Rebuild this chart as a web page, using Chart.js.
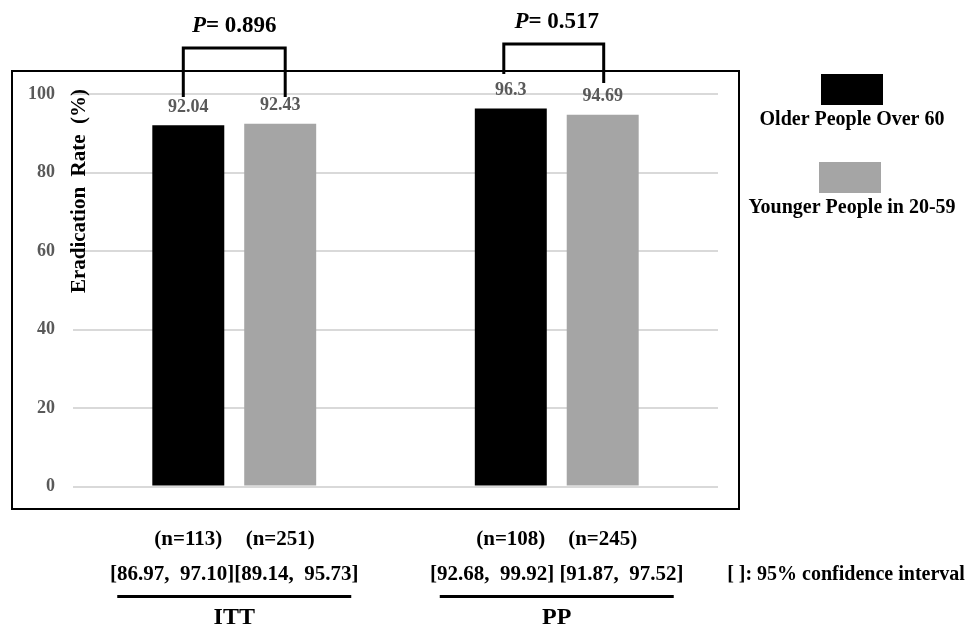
<!DOCTYPE html>
<html lang="en">
<head>
    <meta charset="UTF-8">
    <title>Eradication Rate: Older vs Younger</title>
    <style>
        body { margin: 0; background: #fff; }
        canvas { display: block; }
    </style>
</head>
<body>
    <canvas id="chart" width="969" height="631"></canvas>

    <script src="https://cdn.jsdelivr.net/npm/chart.js"></script>
    <script>
        // data
        const groups = ['ITT', 'PP'];
        const seriesNames = ['Older People Over 60', 'Younger People in 20-59'];
        const olderRates = [92.04, 96.3];
        const youngerRates = [92.43, 94.69];
        const olderN = [113, 108];
        const youngerN = [251, 245];
        const olderCI = ['[86.97,  97.10]', '[92.68,  99.92]'];
        const youngerCI = ['[89.14,  95.73]', '[91.87,  97.52]'];
        const pValues = ['0.896', '0.517'];
        const yTicks = [0, 20, 40, 60, 80, 100];
        const yTitle = 'Eradication  Rate  (%)';
        const ciNote = '[ ]: 95% confidence interval';

        const serif = "'Liberation Serif', 'Times New Roman', serif";
        const barColors = ['#000000', '#a5a5a5'];

        // bracket ends: offsets from bar centres and where the legs stop
        const bracketLayout = [
            { dl: -5, dr: 5, top: 48, bl: 97, br: 97 },
            { dl: -7, dr: 1, top: 44, bl: 74, br: 83 }
        ];
        const ciGap = ['', ' '];

        const canvas = document.getElementById('chart');
        const ctx = canvas.getContext('2d');

        function barX(chart, ds, i) {
            return chart.getDatasetMeta(ds).data[i].x;
        }

        const decorations = {
            id: 'decorations',
            beforeDraw(chart) {
                const c = chart.ctx;
                c.save();
                c.fillStyle = '#fff';
                c.fillRect(0, 0, chart.width, chart.height);
                // frame
                c.strokeStyle = '#000';
                c.lineWidth = 2;
                c.strokeRect(12, 71, 727, 438);
                c.restore();
            },
            afterDatasetsDraw(chart) {
                const c = chart.ctx;
                const x = chart.scales.x;
                c.save();

                // value labels
                c.font = 'bold 18px ' + serif;
                c.fillStyle = '#595959';
                c.textAlign = 'center';
                c.textBaseline = 'middle';
                chart.data.datasets.forEach((ds, d) => {
                    chart.getDatasetMeta(d).data.forEach((bar, i) => {
                        c.fillText(String(ds.data[i]), bar.x, bar.y - 18);
                    });
                });

                // y title inside the plot
                c.save();
                c.translate(80, 191);
                c.rotate(-Math.PI / 2);
                c.font = 'bold 21px ' + serif;
                c.fillStyle = '#000';
                c.fillText(yTitle, 0, 0);
                c.restore();

                // P-value brackets
                groups.forEach((g, i) => {
                    const b = bracketLayout[i];
                    const xl = barX(chart, 0, i) + b.dl;
                    const xr = barX(chart, 1, i) + b.dr;
                    c.strokeStyle = '#000';
                    c.lineWidth = 3;
                    c.beginPath();
                    c.moveTo(xl, b.bl);
                    c.lineTo(xl, b.top);
                    c.lineTo(xr, b.top);
                    c.lineTo(xr, b.br);
                    c.stroke();

                    const cx = x.getPixelForValue(i);
                    const ty = b.top - 22;
                    c.font = 'italic bold 23px ' + serif;
                    const wP = c.measureText('P').width;
                    c.font = 'bold 23px ' + serif;
                    const rest = '= ' + pValues[i];
                    const wR = c.measureText(rest).width;
                    const x0 = cx - (wP + wR) / 2;
                    c.textAlign = 'left';
                    c.fillStyle = '#000';
                    c.font = 'italic bold 23px ' + serif;
                    c.fillText('P', x0, ty);
                    c.font = 'bold 23px ' + serif;
                    c.fillText(rest, x0 + wP, ty);
                    c.textAlign = 'center';
                });

                // group annotations below the plot
                c.fillStyle = '#000';
                groups.forEach((g, i) => {
                    const cx = x.getPixelForValue(i);
                    c.font = 'bold 21px ' + serif;
                    c.fillText('(n=' + olderN[i] + ')', barX(chart, 0, i), 540);
                    c.fillText('(n=' + youngerN[i] + ')', barX(chart, 1, i), 540);
                    c.fillText(olderCI[i] + ciGap[i] + youngerCI[i], cx, 575);

                    c.lineWidth = 3;
                    c.beginPath();
                    c.moveTo(cx - 117, 596.5);
                    c.lineTo(cx + 117, 596.5);
                    c.stroke();

                    c.font = 'bold 24px ' + serif;
                    c.fillText(g, cx, 618);
                });

                c.font = 'bold 20px ' + serif;
                c.fillText(ciNote, 846, 575);

                // legend
                const boxes = [[821, 74], [819, 162]];
                const labelY = [120, 208];
                seriesNames.forEach((name, i) => {
                    c.fillStyle = barColors[i];
                    c.fillRect(boxes[i][0], boxes[i][1], 62, 31);
                    c.fillStyle = '#000';
                    c.font = 'bold 20px ' + serif;
                    c.fillText(name, 852, labelY[i]);
                });

                c.restore();
            }
        };

        new Chart(ctx, {
            type: 'bar',
            data: {
                labels: groups,
                datasets: [
                    {
                        label: seriesNames[0],
                        data: olderRates,
                        backgroundColor: barColors[0]
                    },
                    {
                        label: seriesNames[1],
                        data: youngerRates,
                        backgroundColor: barColors[1]
                    }
                ]
            },
            options: {
                responsive: false,
                animation: false,
                devicePixelRatio: 1,
                categoryPercentage: 0.57,
                barPercentage: 0.783,
                layout: {
                    padding: { left: 0, top: 94, right: 251, bottom: 144.5 }
                },
                plugins: {
                    legend: { display: false },
                    tooltip: { enabled: false }
                },
                scales: {
                    x: { display: false },
                    y: {
                        min: 0,
                        max: 100,
                        afterFit(scale) { scale.width = 73; },
                        afterBuildTicks(scale) {
                            scale.ticks = yTicks.map(v => ({ value: v }));
                        },
                        border: { display: false },
                        grid: {
                            color: '#d9d9d9',
                            lineWidth: 2,
                            drawTicks: false
                        },
                        ticks: {
                            padding: 18,
                            color: '#595959',
                            font: { family: serif, size: 18, weight: 'bold' }
                        }
                    }
                }
            },
            plugins: [decorations]
        });
    </script>
</body>
</html>
